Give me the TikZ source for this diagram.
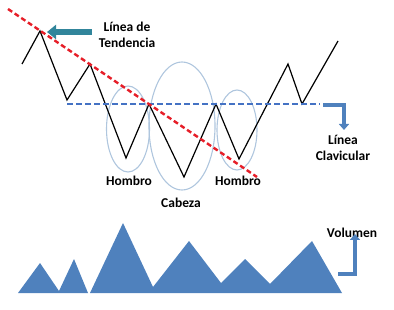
\documentclass[tikz,border=0pt]{standalone}
\usepackage{fontspec}
\setmainfont{Carlito}
\usepackage{xcolor}
\usetikzlibrary{arrows.meta,positioning,shapes.geometric}
\definecolor{volblue}{RGB}{79,129,189}
\definecolor{neckblue}{RGB}{68,114,196}
\definecolor{trendred}{RGB}{230,30,40}
\definecolor{ovalblue}{RGB}{175,198,222}
\definecolor{tealarrow}{RGB}{49,133,155}

\begin{document}
\begin{tikzpicture}[
    x=1pt,y=-1pt,
    lbl/.style={align=center,font=\fontsize{13.5}{16}\selectfont\bfseries,inner sep=0pt},
    oval/.style={draw=ovalblue,line width=1.1pt,ellipse,inner sep=0pt},
    price/.style={draw=black,line width=1.2pt,line join=miter},
    bentarrow/.style={draw=volblue,line width=4.5pt,line join=miter,-{Triangle[length=6pt,width=10pt]}},
    >=Latex
  ]
    \useasboundingbox (0,0) rectangle (394,310);
    % shoulder / head ovals
    \node[oval,minimum width=43pt,minimum height=86pt] (lsh) at (128,129) {};
    \node[oval,minimum width=66pt,minimum height=128pt] (head) at (182,126) {};
    \node[oval,minimum width=40pt,minimum height=80pt] (rsh) at (237,130) {};
    % price
    \draw[price] (22,64) -- (40,31) -- (67,100) -- (90,64) -- (126,158) -- (149,104)
      -- (184,177) -- (216,104) -- (239,159) -- (288,64) -- (302,104) -- (338,41);
    % neckline and trend line
    \coordinate (neckL) at (67,104);
    \coordinate (neckR) at (320,104);
    \draw[neckblue,line width=1.8pt,dash pattern=on 6pt off 3pt] (neckL) -- (neckR);
    \draw[trendred,line width=2.4pt,dash pattern=on 5pt off 3pt] (8,9) -- (257,177);
    % labels
    \node[lbl] (tend) at (127,35) {Línea de\\Tendencia};
    \node[lbl] (hom1) at (129,181) {Hombro};
    \node[lbl] (cab) at (181,203) {Cabeza};
    \node[lbl] (hom2) at (238,181) {Hombro};
    \node[lbl] (clav) at (343,148) {Línea\\Clavicular};
    \node[lbl] (vol) at (352,233) {Volumen};
    % arrows
    \coordinate (tip) at (47,32);
    \coordinate (clavtip) at (344,130);
    \draw[tealarrow,line width=6pt,-{Triangle[length=9pt,width=14pt]}] (tend.west |- tip) ++(-7,0) -- (tip);
    \draw[bentarrow] (323,105) -| (clavtip);
    \draw[bentarrow] (338,274) -| ([yshift=4pt]vol.south -| 355,0);
    % volume
    \fill[volblue] (18,293) -- (40,263) -- (59,291) -- (74,259) -- (88,293) -- cycle;
    \fill[volblue] (90,293) -- (123,223) -- (153,287) -- (189,241) -- (221,283)
      -- (245,259) -- (270,284) -- (312,241) -- (342,293) -- cycle;
  \end{tikzpicture}
\end{document}
